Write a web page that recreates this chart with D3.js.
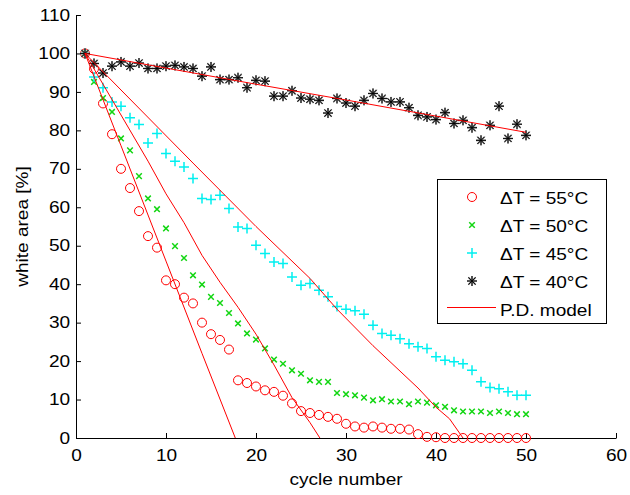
<!DOCTYPE html>
<html>
<head>
<meta charset="utf-8">
<script src="https://cdn.jsdelivr.net/npm/d3@7"></script>
<style>
  html, body { margin: 0; padding: 0; background: #fff; }
  svg { display: block; }
  text { font-family: "Liberation Sans", Arial, Helvetica, sans-serif; fill: #000; }
</style>
</head>
<body>
<svg id="chart" width="630" height="495"></svg>
<script>
// Measured cycle numbers
const cycles = [1,2,3,4,5,6,7,8,9,10,11,12,13,14,15,16,17,18,19,20,
                21,22,23,24,25,26,27,28,29,30,31,32,33,34,35,36,37,38,39,40,
                41,42,43,44,45,46,47,48,49,50];

// White area [%] per cycle for each temperature swing
const dT55 = [100,96,87,79,70,65,59,52.5,49.5,41,40,36.5,35,30,27,25.5,23,15,14.3,13.4,
              12.4,12,11,9,7,6.5,6,5.5,5,3.7,3,2.7,3,2.7,2.4,2.4,2.2,1,0.3,0.2,
              0,0,0,0,0,0,0,0,0,0];
const dT50 = [100,92.6,88.4,84.8,77.9,74.8,68.1,62.3,59.5,54.5,49.9,46.8,42.3,39.9,36.7,35.1,32.5,29.8,27.2,25.6,
              23.3,20.4,19.3,17.6,16.7,15.0,14.6,14.6,11.7,11.4,11.1,10.5,9.8,10.1,9.5,9.5,8.8,9.5,9.2,8.5,
              8.1,7.2,6.9,6.9,6.9,6.5,6.9,6.5,6.2,6.2];
const dT45 = [100,93.9,91.1,87.4,86.3,83.3,81.5,76.7,79.2,74.0,72.0,70.5,67.5,62.3,62.0,63.1,59.7,54.9,54.5,50.1,
              48.0,45.8,45.4,41.9,39.7,40.2,38.4,36.7,34.2,33.5,33.1,32.2,29.3,27.2,26.7,25.8,24.5,23.7,23.3,21.1,
              20.2,19.8,19.3,17.6,14.6,13.1,12.8,12.0,11.1,11.1];
const dT40 = [100,97.4,94.9,96.7,97.8,96.7,97.5,96.1,96.1,96.7,96.9,96.5,96.1,94.1,96.5,93.2,93.2,93.7,91.1,93.0,
              92.8,88.9,88.9,90.3,88.4,88.1,87.8,84.5,88.3,87.1,86.3,87.8,89.6,88.3,87.4,87.4,85.9,83.9,83.5,82.8,
              84.6,81.8,82.6,80.7,77.4,81.3,86.3,77.9,81.6,78.7];

// P.D. model curves (cycle, white area)
const model55Cycles = [1, 5, 10, 14, 17.7];
const model55 = [100, 76, 46, 22, 0];
const model50Cycles = [1, 4, 8, 10, 12, 14, 16, 18, 20, 22, 24, 26, 27.1];
const model50 = [100, 88, 72, 63.5, 56, 47.5, 40.5, 34, 27, 19, 10.5, 4, 0];
const model45Cycles = [1, 13, 20, 26, 29, 33, 38, 40, 41.5, 43];
const model45 = [100, 71.5, 55, 41.5, 33.5, 24, 13, 8, 5, 0];
const model40Cycles = [1, 10, 20, 30, 40, 50];
const model40 = [100, 96.2, 92.0, 87.9, 83.7, 79.5];

const xTicks = [0, 10, 20, 30, 40, 50, 60];
const yTicks = [0, 10, 20, 30, 40, 50, 60, 70, 80, 90, 100, 110];
const legendLabels = ["\u0394T = 55\u00B0C", "\u0394T = 50\u00B0C", "\u0394T = 45\u00B0C", "\u0394T = 40\u00B0C", "P.D. model"];

const svg = d3.select("#chart");
const FS = 16, SX = 1.19;   // font size and horizontal text stretch

const x = d3.scaleLinear().domain([0, 60]).range([76, 616]);
const y = d3.scaleLinear().domain([0, 110]).range([438, 15]);

// marker shapes
const markers = {
  circle: g => g.append("circle").attr("r", 4.5).attr("fill", "none").attr("stroke", "#ff0000").attr("stroke-width", 1),
  cross: g => g.append("path").attr("d", "M-2.8,-2.8L2.8,2.8M-2.8,2.8L2.8,-2.8")
                .attr("stroke", "#12d612").attr("stroke-width", 1.5).attr("fill", "none"),
  plus: g => g.append("path").attr("d", "M-5,0H5M0,-5V5")
                .attr("stroke", "#00f0f0").attr("stroke-width", 1.5).attr("fill", "none"),
  star: g => {
    g.append("path").attr("d", "M-5,0H5M0,-5V5M-3.6,-3.6L3.6,3.6M-3.6,3.6L3.6,-3.6")
      .attr("stroke", "#777").attr("stroke-width", 1.6).attr("fill", "none");
    g.append("path").attr("d", "M-5,0H5M0,-5V5M-3.6,-3.6L3.6,3.6M-3.6,3.6L3.6,-3.6")
      .attr("stroke", "#000").attr("stroke-width", 0.9).attr("fill", "none");
  }
};

// axes (inward ticks, no box)
const xAxis = d3.axisBottom(x).tickValues(xTicks).tickSizeInner(-5).tickSizeOuter(0).tickPadding(12);
const yAxis = d3.axisLeft(y).tickValues(yTicks).tickSizeInner(-5).tickSizeOuter(0).tickPadding(5);

const gx = svg.append("g").attr("transform", "translate(0,438)").call(xAxis);
const gy = svg.append("g").attr("transform", "translate(76,0)").call(yAxis);
[gx, gy].forEach(g => {
  g.select(".domain").attr("stroke", "#000").attr("stroke-width", 1);
  g.selectAll(".tick line").attr("stroke", "#000").attr("stroke-width", 1);
  g.selectAll(".tick text").attr("font-size", FS).attr("fill", "#000")
    .attr("font-family", "Liberation Sans, Arial, sans-serif")
    .attr("transform", `scale(${SX},1)`);
});
gx.selectAll(".tick text").attr("x", 0);

// axis titles
svg.append("text").attr("transform", `translate(${x(30)},485) scale(${SX},1)`)
  .attr("text-anchor", "middle").attr("font-size", FS).text("cycle number");
svg.append("text").attr("transform", `translate(28,${y(55)}) rotate(-90) scale(${SX},1)`)
  .attr("text-anchor", "middle").attr("font-size", FS).text("white area [%]");

// measured series
const series = [
  { values: dT55, marker: "circle" },
  { values: dT50, marker: "cross" },
  { values: dT45, marker: "plus" },
  { values: dT40, marker: "star" }
];
const plot = svg.append("g");
series.forEach(s => {
  const pts = cycles.map((c, i) => [c, s.values[i]]);
  plot.append("g").selectAll("g").data(pts).join("g")
    .attr("transform", d => `translate(${x(d[0])},${y(d[1])})`)
    .each(function () { markers[s.marker](d3.select(this)); });
});

// model lines
const line = d3.line().x(d => x(d[0])).y(d => y(d[1]));
[[model55Cycles, model55], [model50Cycles, model50], [model45Cycles, model45], [model40Cycles, model40]]
  .forEach(([cs, vs]) => {
    plot.append("path").datum(cs.map((c, i) => [c, vs[i]]))
      .attr("d", line).attr("fill", "none").attr("stroke", "#ff0000").attr("stroke-width", 1);
  });

// legend
const lg = svg.append("g");
lg.append("rect").attr("x", 437.5).attr("y", 179.5).attr("width", 169).attr("height", 144)
  .attr("fill", "#fff").attr("stroke", "#000").attr("stroke-width", 1);
const legendKeys = ["circle", "cross", "plus", "star", "line"];
legendLabels.forEach((lab, i) => {
  const base = 204 + i * 28;
  const row = lg.append("g");
  if (legendKeys[i] === "line") {
    row.append("line").attr("x1", 447).attr("x2", 496).attr("y1", base - 8.5).attr("y2", base - 8.5)
      .attr("stroke", "#ff0000").attr("stroke-width", 1);
  } else {
    const mg = row.append("g").attr("transform", `translate(472,${base - 7})`);
    markers[legendKeys[i]](mg);
  }
  row.append("text").attr("transform", `translate(500,${base}) scale(${SX},1)`)
    .attr("font-size", FS).text(lab);
});
</script>
</body>
</html>
